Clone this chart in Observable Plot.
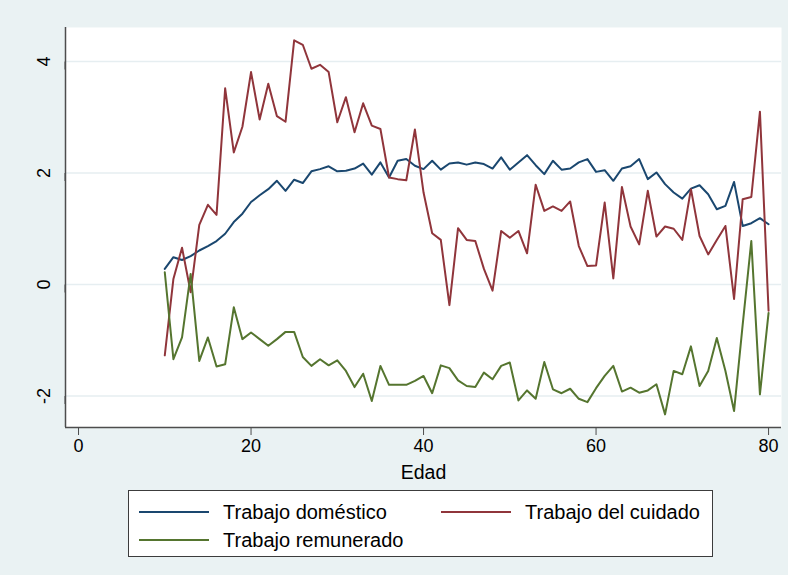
<!DOCTYPE html>
<html><head><meta charset="utf-8">
<script src="https://cdn.jsdelivr.net/npm/d3@7"></script>
<script src="https://cdn.jsdelivr.net/npm/@observablehq/plot@0.6"></script>
<style>
body{margin:0;background:#eaf2f3;}
#wrap{position:relative;width:788px;height:575px;background:#eaf2f3;font-family:"Liberation Sans",Arial,sans-serif;overflow:hidden;}
#chart{position:absolute;left:0;top:0;}
#legend{position:absolute;left:128px;top:490px;width:583px;height:65px;background:#fff;border:1px solid #3c3c3c;}
.entry{position:absolute;height:22px;display:flex;align-items:center;font-size:20px;color:#000;white-space:nowrap;}
.entry svg{margin-right:14px;}
#chart svg g[aria-label="x-axis label"] text{font-size:19.5px;}
</style>
</head><body>
<div id="wrap"><div id="chart"></div><div id="legend"></div></div>
<script>
const ages = d3.range(10, 81);
const domestico = [0.28,0.49,0.44,0.51,0.61,0.69,0.78,0.91,1.12,1.27,1.48,1.60,1.71,1.86,1.68,1.88,1.82,2.03,2.07,2.12,2.03,2.04,2.08,2.17,1.97,2.19,1.92,2.22,2.25,2.13,2.07,2.22,2.06,2.17,2.19,2.15,2.19,2.16,2.08,2.28,2.06,2.19,2.32,2.14,1.98,2.22,2.06,2.08,2.19,2.25,2.02,2.05,1.86,2.08,2.12,2.25,1.89,2.01,1.80,1.65,1.54,1.72,1.78,1.62,1.35,1.41,1.84,1.05,1.10,1.19,1.08];
const cuidado = [-1.27,0.10,0.66,-0.14,1.07,1.43,1.25,3.52,2.37,2.83,3.81,2.96,3.60,3.02,2.92,4.38,4.30,3.87,3.94,3.81,2.91,3.36,2.73,3.25,2.85,2.79,1.92,1.89,1.87,2.78,1.65,0.92,0.80,-0.37,1.01,0.80,0.78,0.28,-0.11,0.96,0.84,0.96,0.56,1.79,1.32,1.40,1.32,1.49,0.69,0.33,0.34,1.47,0.11,1.75,1.04,0.72,1.68,0.86,1.04,1.00,0.80,1.71,0.87,0.54,0.80,1.05,-0.26,1.53,1.57,3.10,-0.47];
const remunerado = [0.22,-1.34,-0.95,0.19,-1.37,-0.95,-1.47,-1.43,-0.41,-0.98,-0.86,-0.98,-1.10,-0.98,-0.85,-0.85,-1.30,-1.46,-1.34,-1.45,-1.36,-1.55,-1.84,-1.60,-2.09,-1.46,-1.80,-1.80,-1.80,-1.73,-1.64,-1.95,-1.45,-1.50,-1.72,-1.82,-1.84,-1.58,-1.70,-1.46,-1.40,-2.08,-1.90,-2.05,-1.39,-1.88,-1.95,-1.87,-2.05,-2.11,-1.86,-1.64,-1.46,-1.92,-1.85,-1.94,-1.90,-1.79,-2.33,-1.55,-1.61,-1.11,-1.82,-1.55,-0.96,-1.55,-2.27,-0.72,0.78,-1.97,-0.51];
const seriesNames = ["Trabajo doméstico", "Trabajo del cuidado", "Trabajo remunerado"];
const seriesValues = [domestico, cuidado, remunerado];
const seriesColors = ["#1a476f", "#90353b", "#55752f"];
const xTicks = [0, 20, 40, 60, 80];
const yTicks = [-2, 0, 2, 4];
const xLabel = "Edad";

const rows = seriesNames.flatMap((name, i) => ages.map((a, j) => ({serie: name, edad: a, valor: seriesValues[i][j]})));
const xDomain = [-1.51, 81.5];
const yDomain = [-2.565, 4.61];

const chart = Plot.plot({
  width: 788,
  height: 488,
  marginLeft: 65,
  marginRight: 7,
  marginTop: 27,
  marginBottom: 61,
  style: {fontFamily: '"Liberation Sans", Arial, sans-serif', fontSize: "18px", background: "transparent", color: "#000"},
  x: {domain: xDomain},
  y: {domain: yDomain},
  color: {domain: seriesNames, range: seriesColors},
  marks: [
    Plot.frame({fill: "white", stroke: null}),
    Plot.gridY(yTicks, {stroke: "#e6eef1", strokeOpacity: 1, strokeWidth: 1.6}),
    Plot.line(rows, {x: "edad", y: "valor", z: "serie", stroke: "serie", strokeWidth: 2}),
    Plot.ruleY([yDomain[0]], {stroke: "#4d4d4d", strokeWidth: 1.5}),
    Plot.ruleX([xDomain[0]], {stroke: "#4d4d4d", strokeWidth: 1.5}),
    Plot.axisX(xTicks, {tickSize: 8, tickPadding: 4, stroke: "#4d4d4d", fill: "#000", label: xLabel, labelAnchor: "center", labelArrow: "none", labelOffset: 51, tickFormat: d => String(d)}),
    Plot.axisY(yTicks, {tickSize: 8, tickPadding: 13, stroke: "#4d4d4d", fill: "#000", rotate: -90, textAnchor: "middle", label: null, tickFormat: d => String(d)})
  ]
});
document.getElementById("chart").appendChild(chart);

const legend = document.getElementById("legend");
const pos = [[10, 10], [312, 10], [10, 38]];
seriesNames.forEach((name, i) => {
  const e = document.createElement("div");
  e.className = "entry";
  e.style.left = pos[i][0] + "px";
  e.style.top = pos[i][1] + "px";
  e.innerHTML = `<svg width="70" height="4"><line x1="0" x2="70" y1="2" y2="2" stroke="${seriesColors[i]}" stroke-width="2"/></svg><span></span>`;
  e.querySelector("span").textContent = name;
  legend.appendChild(e);
});
</script>
</body></html>
